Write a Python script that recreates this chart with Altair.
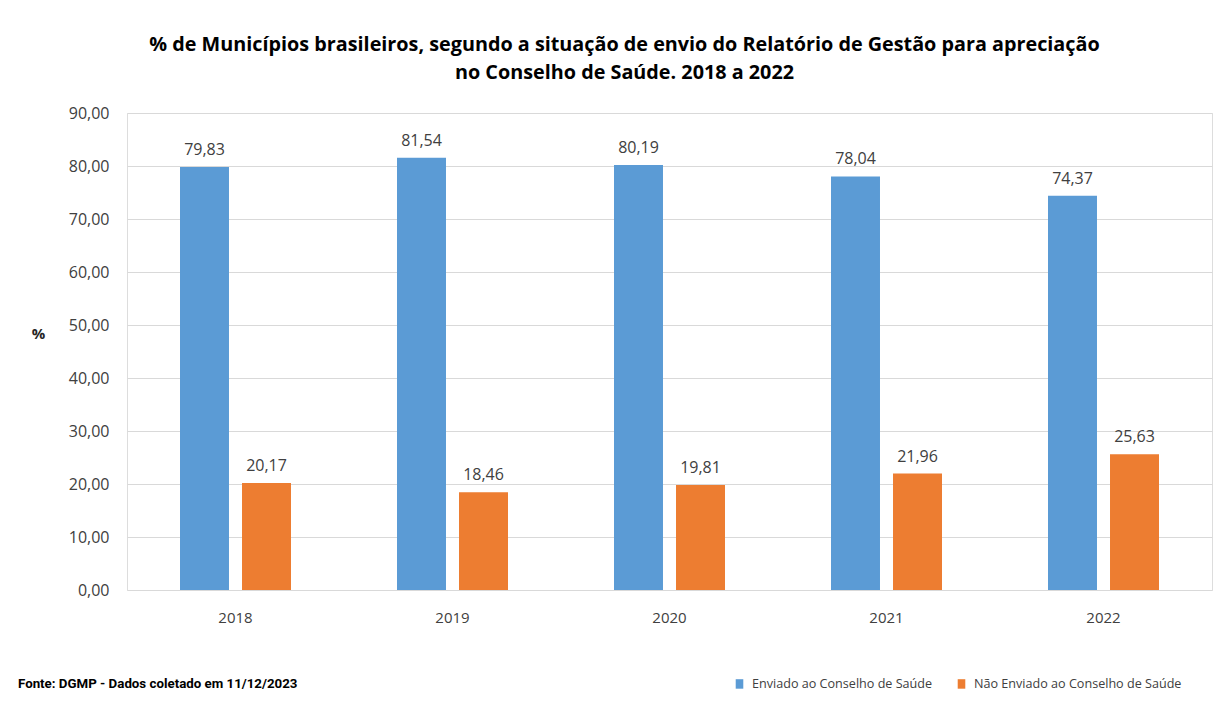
import altair as alt
import pandas as pd

years = ["2018", "2019", "2020", "2021", "2022"]
series = ["Enviado ao Conselho de Saúde", "Não Enviado ao Conselho de Saúde"]
enviado = [79.83, 81.54, 80.19, 78.04, 74.37]
nao_enviado = [20.17, 18.46, 19.81, 21.96, 25.63]
colors = ["#5B9BD5", "#ED7D31"]
title_lines = [
    "% de Municípios brasileiros, segundo a situação de envio do Relatório de Gestão para apreciação",
    "no Conselho de Saúde. 2018 a 2022",
]
fonte = "Fonte: DGMP - Dados coletado em 11/12/2023"

rows = []
for i, yr in enumerate(years):
    for s, vals in zip(series, [enviado, nao_enviado]):
        v = vals[i]
        rows.append({"ano": yr, "situacao": s, "valor": v,
                     "rotulo": f"{v:.2f}".replace(".", ",")})
df = pd.DataFrame(rows)

FONT = "Open Sans"

x = alt.X("ano:N", title=None,
          scale=alt.Scale(paddingInner=0.4885, paddingOuter=0.24425),
          axis=alt.Axis(labelAngle=0, ticks=False, domain=False, labelPadding=20,
                        labelFontSize=15, labelFont=FONT, labelColor="#404040",
                        labelFontWeight="normal"))
xo = alt.XOffset("situacao:N", sort=series,
                 scale=alt.Scale(paddingInner=0.21, paddingOuter=0))
y = alt.Y("valor:Q", scale=alt.Scale(domain=[0, 90]),
          axis=alt.Axis(values=list(range(0, 91, 10)),
                        labelExpr="replace(format(datum.value, '.2f'), '.', ',')",
                        ticks=False, domain=False, labelPadding=18,
                        labelFontSize=16, labelFont=FONT, labelColor="#404040",
                        gridColor="#D9D9D9", gridWidth=1,
                        title="%", titleAngle=0, titleX=-89, titleY=220,
                        titleAlign="center", titleBaseline="middle",
                        titleFont=FONT, titleFontSize=15, titleFontWeight="bold",
                        titleColor="#262626"))
color = alt.Color("situacao:N", sort=series,
                  scale=alt.Scale(domain=series, range=colors),
                  legend=alt.Legend(orient="none", legendX=603, legendY=561,
                                    direction="horizontal", title=None,
                                    symbolType="M-0.4,-0.5H0.4V0.5H-0.4Z",
                                    symbolSize=360, symbolStrokeWidth=0,
                                    labelFont=FONT, labelFontSize=12.6,
                                    labelColor="#404040", columnPadding=19,
                                    labelOffset=3, labelLimit=0))

bars = alt.Chart(df).mark_bar().encode(x=x, xOffset=xo, y=y, color=color)
labels = alt.Chart(df).mark_text(baseline="bottom", dy=-9, fontSize=16, font=FONT,
                                 color="#404040").encode(
    x=x, xOffset=xo, y=y, text="rotulo:N")
footer = alt.Chart(pd.DataFrame({"t": [fonte]})).mark_text(
    align="left", baseline="middle", font="Roboto", fontSize=13.3, fontWeight="bold",
    color="#000000").encode(x=alt.value(-109), y=alt.value(571), text="t:N")

chart = alt.layer(bars, labels, footer).properties(
    width=1085, height=477,
    autosize=alt.AutoSizeParams(type="none"),
    padding={"left": 119, "top": 105, "right": 10, "bottom": 110},
    title=alt.TitleParams(text=title_lines, font=FONT, fontSize=19.8, fontWeight="bold",
                          anchor="middle", dx=-45, offset=22, lineHeight=28,
                          color="#000000"),
).configure_view(stroke=None).configure(background="white")

chart.save("out.html", embed_options={"renderer": "svg", "actions": False})
